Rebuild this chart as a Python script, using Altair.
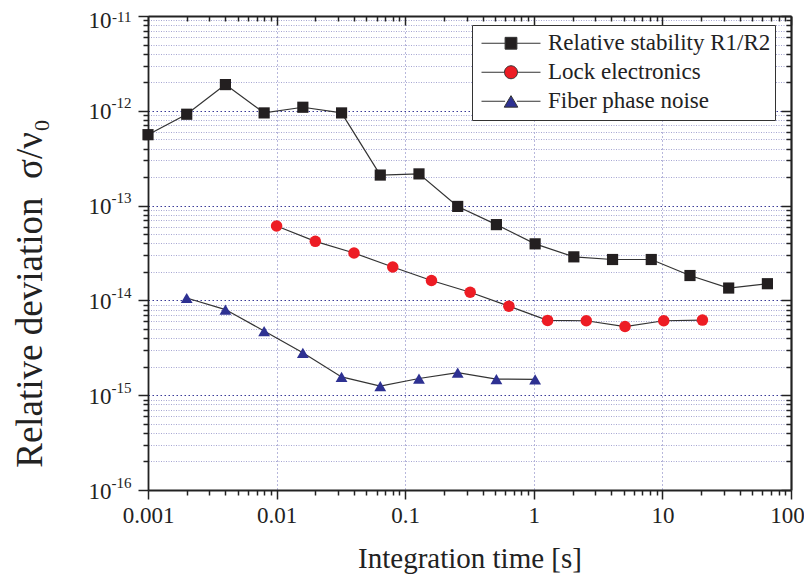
import json
import altair as alt
import pandas as pd

FONT = "'Liberation Serif', 'Times New Roman', Times, 'DejaVu Serif', serif"
INK = "#222222"

SERIES = ["Relative stability R1/R2", "Lock electronics", "Fiber phase noise"]
COLORS = ["#231f20", "#ed1c24", "#2e3192"]
SHAPES = ["square", "circle", "triangle-up"]
SIZES = [125, 140, 165]

tau_stab = [0.001, 0.002, 0.004, 0.008, 0.016, 0.032, 0.064, 0.128, 0.256, 0.512,
            1.024, 2.048, 4.096, 8.192, 16.384, 32.768, 65.536]
sig_stab = [5.6e-13, 9.2e-13, 1.89e-12, 9.5e-13, 1.09e-12, 9.5e-13, 2.1e-13, 2.16e-13,
            9.8e-14, 6.3e-14, 3.95e-14, 2.88e-14, 2.7e-14, 2.7e-14, 1.83e-14, 1.35e-14, 1.5e-14]

tau_lock = [0.01, 0.02, 0.04, 0.08, 0.16, 0.32, 0.64, 1.28, 2.56, 5.12, 10.24, 20.48]
sig_lock = [6.1e-14, 4.2e-14, 3.16e-14, 2.25e-14, 1.62e-14, 1.22e-14, 8.7e-15, 6.15e-15,
            6.1e-15, 5.3e-15, 6.1e-15, 6.2e-15]

tau_fiber = [0.002, 0.004, 0.008, 0.016, 0.032, 0.064, 0.128, 0.256, 0.512, 1.024]
sig_fiber = [1.06e-14, 8.0e-15, 4.75e-15, 2.8e-15, 1.56e-15, 1.25e-15, 1.5e-15, 1.73e-15,
             1.48e-15, 1.47e-15]

X_MAJOR = [0.001, 0.01, 0.1, 1, 10, 100]
X_LABELS = ["0.001", "0.01", "0.1", "1", "10", "100"]
Y_MAJOR = [1e-16, 1e-15, 1e-14, 1e-13, 1e-12, 1e-11]
Y_BASE = "10"
Y_EXP = ["-16", "-15", "-14", "-13", "-12", "-11"]

X_TICKS = [float(f"{m}e{e}") for e in range(-3, 2) for m in range(1, 10)] + [100.0]
Y_TICKS = [float(f"{m}e{e}") for e in range(-16, -11) for m in range(1, 10)] + [1e-11]

rows = []
for name, taus, sigs in zip(SERIES, [tau_stab, tau_lock, tau_fiber], [sig_stab, sig_lock, sig_fiber]):
    for t, s in zip(taus, sigs):
        rows.append({"series": name, "tau": t, "sigma": s})
df = pd.DataFrame(rows)


def lookup_expr(vals, labels):
    expr = "''"
    for v, l in zip(reversed(vals), reversed(labels)):
        expr = f"datum.value == {float(v)!r} ? '{l}' : ({expr})"
    return expr


X_TEST = f"indexof({json.dumps([float(v) for v in X_MAJOR])}, datum.value) >= 0"
Y_TEST = f"indexof({json.dumps(Y_MAJOR)}, datum.value) >= 0"
TOP_TEST = "datum.value == 1e-11"
LAST_X_TEST = "datum.value == 100"

# legend symbols: a line with the marker on it
LEG_PATHS = [
    "M-1,0H-0.2M0.2,0H1M-0.2,-0.2H0.2V0.2H-0.2Z",
    "M-1,0H-0.22M0.22,0H1M-0.22,0A0.22,0.22 0 1,0 0.22,0A0.22,0.22 0 1,0 -0.22,0Z",
    "M-1,0H-0.2M0.2,0H1M0,-0.19L0.23,0.2L-0.23,0.2Z",
]

xscale = alt.Scale(type="log", domain=[0.001, 100], nice=False)
yscale = alt.Scale(type="log", domain=[1e-16, 1e-11], nice=False)

x_main = alt.Axis(
    values=X_TICKS, labelExpr=lookup_expr(X_MAJOR, X_LABELS), orient="bottom",
    title="Integration time [s]", grid=True, gridColor="#7070b8", gridDash=[1, 3], gridWidth=1,
    gridOpacity={"condition": {"test": X_TEST, "value": 1}, "value": 0},
    tickSize={"condition": {"test": X_TEST, "value": 9}, "value": 5},
    tickColor=INK, tickWidth=1.5, domainColor=INK, domainWidth=1.8,
    labelFont=FONT, labelFontSize=23, labelColor=INK, labelPadding=5,
    labelOffset={"condition": {"test": LAST_X_TEST, "value": -4}, "value": 0},
    labelFlush=False, labelOverlap=False, labelBound=False,
    titleFont=FONT, titleFontSize=29, titleFontWeight="normal", titleColor=INK,
    titleY=77, titleBaseline="alphabetic",
)
y_main = alt.Axis(
    values=Y_TICKS, labelExpr=f"{Y_TEST} ? '{Y_BASE}' : ''", orient="left",
    title="Relative deviation\u00a0 σ/ν₀", grid=True,
    gridColor={"condition": {"test": Y_TEST, "value": "#3a3a98"}, "value": "#a6a6d2"},
    gridDash={"condition": {"test": Y_TEST, "value": [1.5, 2.5]}, "value": [1, 1.5]},
    gridWidth=1,
    tickSize={"condition": {"test": Y_TEST, "value": 10}, "value": 5},
    tickColor=INK, tickWidth=1.5, domainColor=INK, domainWidth=1.8,
    labelFont=FONT, labelFontSize=23, labelColor=INK, labelPadding=27,
    labelOffset={"condition": {"test": TOP_TEST, "value": 4}, "value": 1},
    labelOverlap=False, labelBound=False, labelFlush=False,
    titleFont=FONT, titleFontSize=37, titleFontWeight="normal", titleColor=INK,
    titleAngle=270, titleX=-118, titleY=277, titleAlign="center", titleBaseline="middle",
)
y_exp = alt.Axis(
    values=Y_MAJOR, labelExpr=lookup_expr(Y_MAJOR, Y_EXP), orient="left",
    domain=False, ticks=False, grid=False, title=None,
    labelFont=FONT, labelFontSize=15, labelColor=INK, labelPadding=17,
    labelOffset={"condition": {"test": TOP_TEST, "value": 0}, "value": -8},
    labelOverlap=False, labelBound=False, labelFlush=False,
)
x_top = alt.Axis(
    values=X_TICKS, orient="bottom", offset=-474, labels=False, title=None, grid=False,
    tickSize={"condition": {"test": X_TEST, "value": 9}, "value": 5},
    tickColor=INK, tickWidth=1.5, domainColor=INK, domainWidth=1.8,
)
y_right = alt.Axis(
    values=Y_TICKS, orient="left", offset=-643, labels=False, title=None, grid=False,
    tickSize={"condition": {"test": Y_TEST, "value": 10}, "value": 5},
    tickColor=INK, tickWidth=1.5, domainColor=INK, domainWidth=2.2,
)

base = alt.Chart(df)

lines = base.mark_line(color="#333333", strokeWidth=1.2).encode(
    x=alt.X("tau:Q", scale=xscale, axis=x_main),
    y=alt.Y("sigma:Q", scale=yscale, axis=y_main),
    detail="series:N",
)

points = base.mark_point(filled=True, opacity=1).encode(
    x=alt.X("tau:Q", scale=xscale, axis=None),
    y=alt.Y("sigma:Q", scale=yscale, axis=y_exp),
    color=alt.Color("series:N", scale=alt.Scale(domain=SERIES, range=COLORS), legend=None),
    shape=alt.Shape("series:N", scale=alt.Scale(domain=SERIES, range=SHAPES), legend=None),
    size=alt.Size("series:N", scale=alt.Scale(domain=SERIES, range=SIZES), legend=None),
)

leg = alt.Legend(
    title=None, orient="none", legendX=324, legendY=9, padding=4,
    symbolOffset=5, symbolSize=3481, clipHeight=28.5, rowPadding=0,
    labelOffset=7, labelFont=FONT, labelFontSize=23, labelColor=INK, labelLimit=400,
    strokeColor="#333333", fillColor="white", cornerRadius=0,
    symbolStrokeWidth=1, symbolOpacity=1,
)

# frame (top/right mirrored axes) + legend carrier; draws no marks itself
frame = base.transform_filter("false").mark_point(strokeWidth=1, opacity=1).encode(
    x=alt.X("tau:Q", scale=xscale, axis=x_top),
    y=alt.Y("sigma:Q", scale=yscale, axis=y_right),
    fill=alt.Fill("series:N", scale=alt.Scale(domain=SERIES, range=COLORS), legend=leg),
    stroke=alt.Stroke("series:N", scale=alt.Scale(domain=SERIES, range=["#333333"] * 3), legend=leg),
    shape=alt.Shape("series:N", scale=alt.Scale(domain=SERIES, range=LEG_PATHS), legend=leg),
)

chart = alt.layer(lines, points, frame).resolve_axis(
    x="independent", y="independent"
).resolve_scale(
    color="independent", shape="independent", fill="independent", stroke="independent"
).properties(
    width=643, height=474,
    autosize=alt.AutoSizeParams(type="none"),
    padding={"left": 140, "top": 8, "right": 13, "bottom": 90},
    background="white",
).configure_view(strokeWidth=0)

chart.save("out.html", embed_options={"renderer": "svg", "actions": False})
